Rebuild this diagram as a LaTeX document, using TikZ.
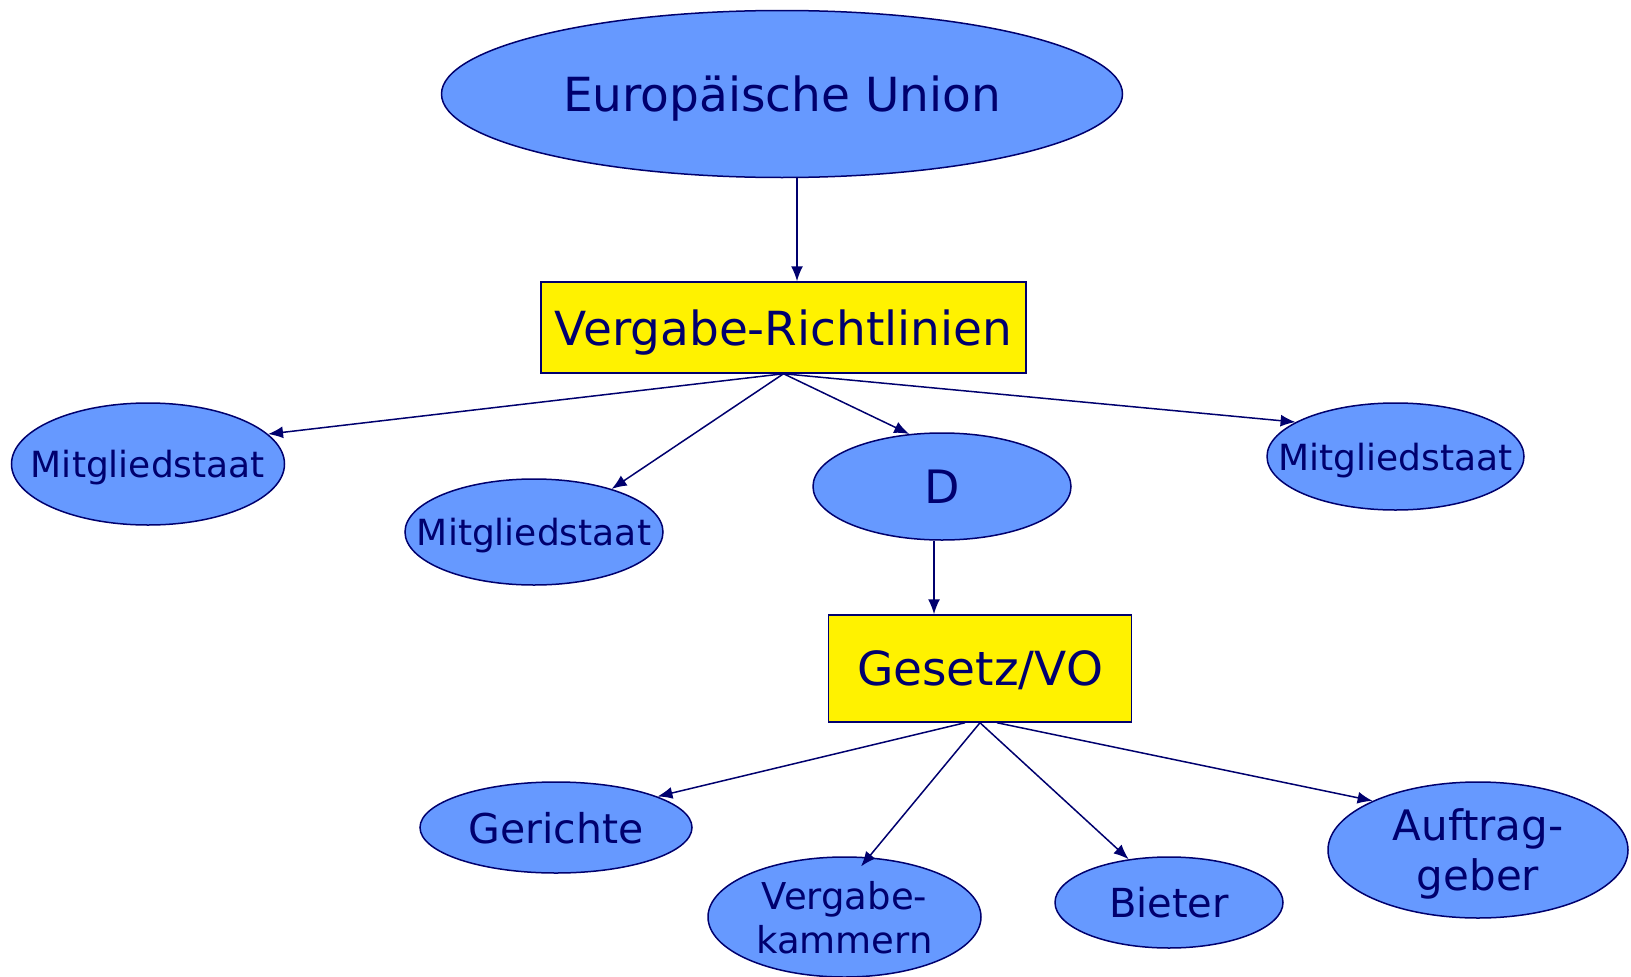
\documentclass[tikz,border=0pt]{standalone}
\usepackage{fontspec}
\setmainfont{DejaVu Sans}
\usetikzlibrary{shapes.geometric,arrows.meta}
\definecolor{eublue}{RGB}{102,153,255}
\definecolor{eunavy}{RGB}{0,0,110}
\begin{document}
\begin{tikzpicture}[x = 1pt, y = -1pt,
        blob/.style = {ellipse, draw = eunavy, line width = 1.5pt, fill = eublue, text = eunavy, inner sep = 0pt, text depth = 0pt},
        law/.style = {rectangle, draw = eunavy, line width = 1.5pt, fill = yellow, text = eunavy, inner sep = 0pt, text depth = 0pt},
        link/.style = {draw = eunavy, line width = 1.5pt, -{Latex[length = 15pt, width = 12pt]}}]
    \useasboundingbox (0,0) rectangle (1631,977);

    \node[blob, minimum width = 681, minimum height = 167, font = \fontsize{47}{56}\selectfont] (eu) at (782,94)
        {\clap{Europäische Union}};
    \node[law, minimum width = 485, minimum height = 91, font = \fontsize{47}{56}\selectfont] (vr) at (783.5,327.5)
        {\clap{Vergabe-Richtlinien}};

    \node[blob, minimum width = 273, minimum height = 122, font = \fontsize{36}{43}\selectfont] (ms1) at (148,464)
        {\clap{Mitgliedstaat}};
    \node[blob, minimum width = 258, minimum height = 106, font = \fontsize{36}{43}\selectfont] (ms2) at (534,532)
        {\clap{Mitgliedstaat}};
    \node[blob, minimum width = 258, minimum height = 107, font = \fontsize{46}{55}\selectfont] (d) at (942,486.5)
        {D};
    \node[blob, minimum width = 257, minimum height = 107, font = \fontsize{36}{43}\selectfont] (ms3) at (1395.5,456.5)
        {\clap{Mitgliedstaat}};

    \node[law, minimum width = 303, minimum height = 107, font = \fontsize{47}{56}\selectfont] (gv) at (980,668.5)
        {\clap{Gesetz/VO}};

    \node[blob, minimum width = 272, minimum height = 91, font = \fontsize{41}{49}\selectfont] (ger) at (556,827.5)
        {\clap{Gerichte}};
    \node[blob, minimum width = 273, minimum height = 120, align = center, font = \fontsize{37}{44}\selectfont] (vk) at (844.5,917)
        {\clap{Vergabe-}\\\clap{kammern}};
    \node[blob, minimum width = 228, minimum height = 91, font = \fontsize{40}{48}\selectfont] (bie) at (1169,902.5)
        {\clap{Bieter}};
    \node[blob, minimum width = 300, minimum height = 136, align = center, font = \fontsize{42}{50}\selectfont] (auf) at (1478,850)
        {\clap{Auftrag-}\\\clap{geber}};

    \draw[link] ([xshift = 15pt]eu.south) -- ([xshift = 13.5pt]vr.north);

    \draw[link] (vr.south) -- (ms1.14);
    \draw[link] (vr.south) -- (ms2.29);
    \draw[link] (vr.south) -- (d.122);
    \draw[link] (vr.south) -- (ms3.161);

    \draw[link] ([xshift = -8pt]d.south) -- ([xshift = -46pt]gv.north);

    \draw[link] ([xshift = -15pt]gv.south) -- (ger.17);
    \draw[link, shorten > = -12pt] (gv.south) -- (vk.68);
    \draw[link] (gv.south) -- (bie.133);
    \draw[link] ([xshift = 17pt]gv.south) -- (auf.155);
\end{tikzpicture}
\end{document}
